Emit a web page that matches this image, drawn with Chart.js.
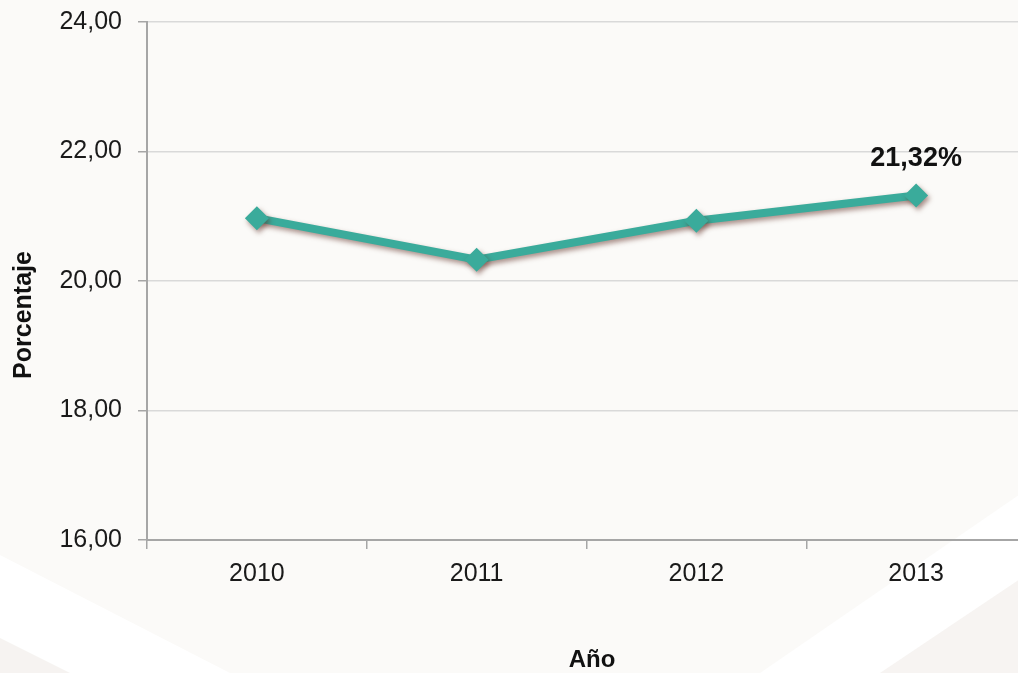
<!DOCTYPE html>
<html>
<head>
<meta charset="utf-8">
<script src="https://cdn.jsdelivr.net/npm/chart.js@4/dist/chart.umd.min.js"></script>
<style>
  html, body { margin:0; padding:0; background:#fbfaf8; overflow:hidden; }
  canvas { display:block; }
</style>
</head>
<body>
<canvas id="c" width="1026" height="673"></canvas>
<script>
const categories = ['2010', '2011', '2012', '2013'];
const values = [20.97, 20.33, 20.93, 21.32];
const labelledIndex = 3;
const labelText = '21,32%';
const yTitle = 'Porcentaje';
const xTitle = 'Año';
const yMin = 16, yMax = 24, yStep = 2;
const FONT = '"Liberation Sans", Arial, sans-serif';

const bgPlugin = {
  id: 'bg',
  beforeDraw(chart) {
    const ctx = chart.ctx, w = chart.width, h = chart.height;
    ctx.save();
    ctx.fillStyle = '#fbfaf8';
    ctx.fillRect(0, 0, w, h);
    ctx.fillStyle = '#ffffff';
    ctx.beginPath(); ctx.moveTo(0, 555); ctx.lineTo(230, 673); ctx.lineTo(0, 673); ctx.closePath(); ctx.fill();
    ctx.fillStyle = '#f6f3f1';
    ctx.beginPath(); ctx.moveTo(0, 638); ctx.lineTo(70, 673); ctx.lineTo(0, 673); ctx.closePath(); ctx.fill();
    ctx.fillStyle = '#ffffff';
    ctx.beginPath(); ctx.moveTo(760, 673); ctx.lineTo(1026, 490); ctx.lineTo(1026, 673); ctx.closePath(); ctx.fill();
    ctx.fillStyle = '#f7f4f2';
    ctx.beginPath(); ctx.moveTo(880, 673); ctx.lineTo(1026, 575); ctx.lineTo(1026, 673); ctx.closePath(); ctx.fill();
    ctx.restore();
  }
};

const shadowPlugin = {
  id: 'shadow',
  beforeDatasetDraw(chart) {
    const ctx = chart.ctx;
    ctx.save();
    ctx.shadowColor = 'rgba(90,40,30,0.5)';
    ctx.shadowBlur = 5;
    ctx.shadowOffsetX = 2;
    ctx.shadowOffsetY = 3;
  },
  afterDatasetDraw(chart) {
    chart.ctx.restore();
  }
};

const textPlugin = {
  id: 'texts',
  afterDatasetsDraw(chart) {
    const meta = chart.getDatasetMeta(0);
    const pt = meta.data[labelledIndex];
    const ctx = chart.ctx;
    ctx.save();
    ctx.fillStyle = '#111111';
    ctx.textAlign = 'center';
    ctx.textBaseline = 'middle';
    ctx.font = 'bold 27px ' + FONT;
    ctx.fillText(labelText, pt.x, pt.y - 37);
    ctx.font = 'bold 24px ' + FONT;
    ctx.fillText(xTitle, 592, 660);
    ctx.translate(24, 315);
    ctx.rotate(-Math.PI / 2);
    ctx.font = 'bold 25px ' + FONT;
    ctx.fillText(yTitle, 0, 0);
    ctx.restore();
  }
};

function zeroPad(s) { s.paddingTop = 0; s.paddingBottom = 0; s.paddingLeft = 0; s.paddingRight = 0; }

new Chart(document.getElementById('c'), {
  type: 'line',
  data: {
    labels: categories,
    datasets: [{
      data: values,
      borderColor: '#3aab9b',
      backgroundColor: '#3aab9b',
      borderWidth: 8,
      pointStyle: 'rectRot',
      pointRadius: 12,
      pointHoverRadius: 12,
      pointBorderWidth: 0,
      tension: 0
    }]
  },
  options: {
    responsive: false,
    animation: false,
    events: [],
    layout: { autoPadding: false, padding: { top: 22, right: 0, left: 0, bottom: 0 } },
    plugins: { legend: { display: false }, tooltip: { enabled: false } },
    scales: {
      x: {
        offset: true,
        grid: { display: true, offset: true, drawOnChartArea: false, tickLength: 9, color: '#a6a6a6', tickColor: '#a6a6a6', lineWidth: 1.5 },
        border: { display: true, color: '#a6a6a6', width: 2 },
        ticks: { color: '#1a1a1a', font: { family: FONT, size: 25 }, padding: 10 },
        afterFit(s) { s.height = 133; zeroPad(s); }
      },
      y: {
        min: yMin, max: yMax,
        ticks: { stepSize: yStep, color: '#1a1a1a', font: { family: FONT, size: 25 }, padding: 16,
          callback: (v) => v.toFixed(2).replace('.', ',') },
        grid: { color: '#d9d9d9', lineWidth: 1.5, tickLength: 9, tickColor: '#a6a6a6' },
        border: { display: true, color: '#a6a6a6', width: 2 },
        afterFit(s) { s.width = 147; zeroPad(s); }
      }
    }
  },
  plugins: [bgPlugin, shadowPlugin, textPlugin]
});
</script>
</body>
</html>
